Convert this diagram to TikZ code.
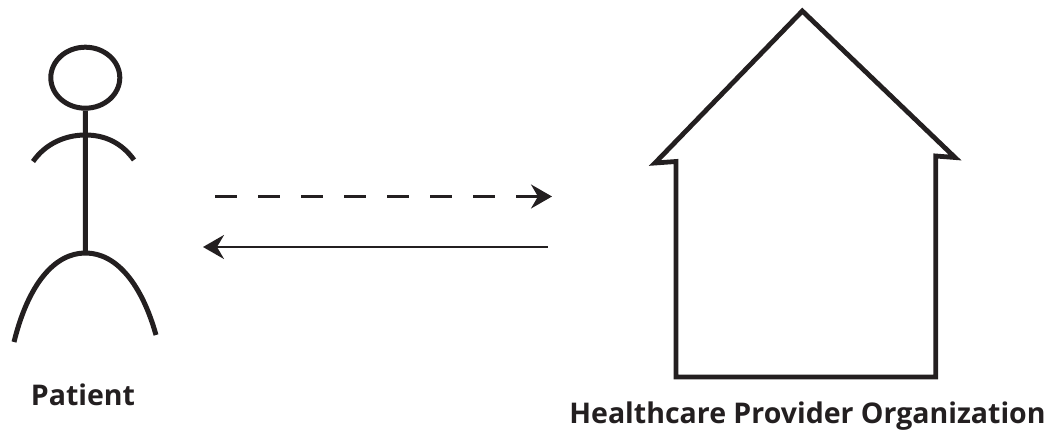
\documentclass[tikz,border=0pt]{standalone}
\usepackage{fontspec}
\setmainfont{Open Sans}
\usetikzlibrary{arrows.meta,shapes.geometric}
\definecolor{ink}{HTML}{231F20}
\tikzset{
  figure/.style={draw=ink,line width=5pt},
  wall/.style={draw=ink,line width=4.8pt,miter limit=20},
  flow/.style={draw=ink,line width=2.8pt,-{Stealth[length=21pt,width=24pt,inset=7pt]}},
  caption/.style={text=ink,font=\bfseries\fontsize{28.5}{32}\selectfont,inner sep=0pt,anchor=base}
}
\begin{document}
\begin{tikzpicture}[x=1pt,y=-1pt]
\useasboundingbox (0,0) rectangle (1058,430);
\node[draw=ink,line width=5pt,ellipse,minimum width=69pt,minimum height=61pt,inner sep=0pt] (head) at (85.3,77.7) {};
\coordinate (hip) at (85.5,253);
\coordinate (armL) at (33,161.5);
\coordinate (armR) at (134,160);
\coordinate (shoulder) at (85.5,135);
\coordinate (footL) at (14,342);
\coordinate (footR) at (156,335);
\draw[figure] (head.south) -- (hip);
\draw[figure] (armL) .. controls (46,143) and (66,135) .. (shoulder) .. controls (105,135) and (122,143) .. (armR);
\draw[figure] (footL) .. controls (28,285) and (54,253) .. (hip) .. controls (117,253) and (142,285) .. (footR);
\coordinate (a1) at (215,196.5);
\coordinate (a2) at (552,196.5);
\coordinate (b1) at (547.7,247);
\coordinate (b2) at (203,247);
\draw[flow,dash pattern=on 21.7pt off 21.3pt] (a1) -- (a2);
\draw[flow] (b1) -- (b2);
\draw[wall] (676,377) -- (676,161.5) -- (655,163) -- (802.3,11) -- (955,157.5) -- (935.7,156) -- (935.7,377) -- cycle;
\node[caption] (patient) at (83,405) {Patient};
\node[caption] (org) at (807.5,423) {Healthcare Provider Organization};
\end{tikzpicture}
\end{document}
